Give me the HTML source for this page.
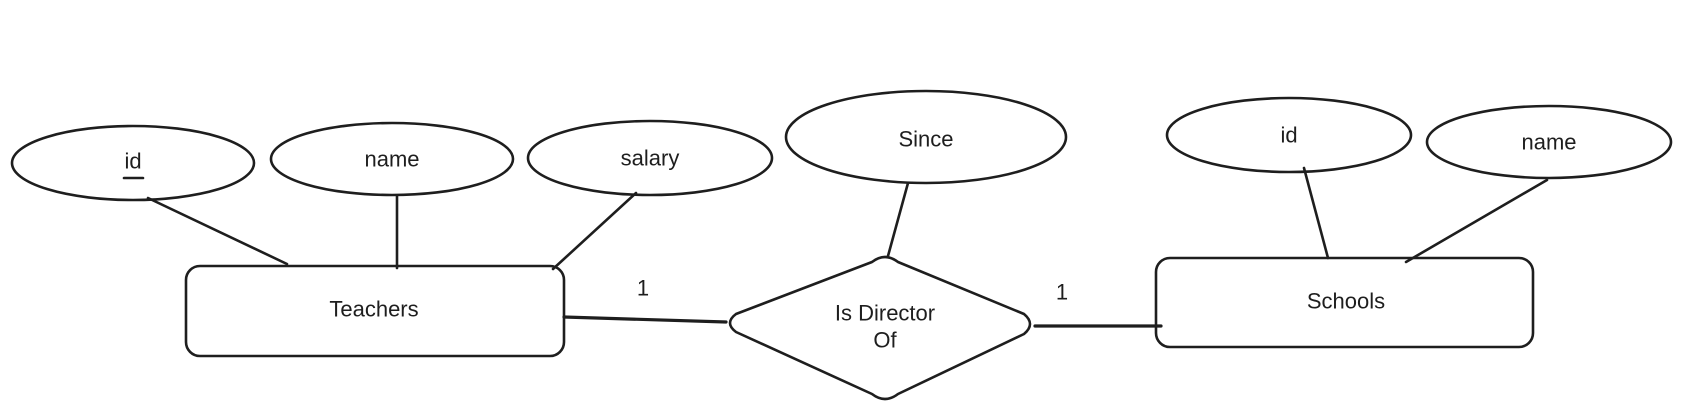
<!DOCTYPE html>
<html><head><style>
html,body{margin:0;padding:0;background:#fff;}
svg{display:block;}
text{font-family:"Liberation Sans",sans-serif;font-size:22px;fill:#1e1e1e;text-anchor:middle;dominant-baseline:central;}
</style></head><body>
<svg width="1700" height="406" viewBox="0 0 1700 406" xmlns="http://www.w3.org/2000/svg">
<rect width="1700" height="406" fill="#fff"/>
<g fill="none" stroke="#1e1e1e" stroke-width="2.6" stroke-linecap="round" stroke-linejoin="round">
<ellipse cx="133" cy="163" rx="121" ry="37"/>
<ellipse cx="392" cy="159" rx="121" ry="36"/>
<ellipse cx="650" cy="158" rx="122" ry="37"/>
<ellipse cx="926" cy="137" rx="140" ry="46"/>
<ellipse cx="1289" cy="135" rx="122" ry="37"/>
<ellipse cx="1549" cy="142" rx="122" ry="36"/>
<rect x="186" y="266" width="378" height="90" rx="14"/>
<rect x="1156" y="258" width="377" height="89" rx="14"/>
<path d="M872 262 Q885 252 898 262 L1024 314 Q1036 324 1024 334 L898 394 Q885 404 872 394 L736 332 Q724 323 736 314 Z"/>
<line x1="148" y1="198" x2="287" y2="264"/>
<line x1="397" y1="196" x2="397" y2="268"/>
<line x1="636" y1="193" x2="553" y2="269"/>
<line x1="908" y1="183" x2="888" y2="256"/>
<line x1="1304" y1="168" x2="1328" y2="258"/>
<line x1="1547" y1="180" x2="1406" y2="262"/>
<line x1="564" y1="317" x2="726" y2="322" stroke-width="3.2"/>
<line x1="1035" y1="326" x2="1161" y2="326" stroke-width="3.2"/>
<line x1="124" y1="178" x2="143" y2="178"/>
</g>
<text x="133" y="161">id</text>
<text x="392" y="159">name</text>
<text x="650" y="158">salary</text>
<text x="926" y="139">Since</text>
<text x="1289" y="135">id</text>
<text x="1549" y="142">name</text>
<text x="374" y="309">Teachers</text>
<text x="1346" y="301">Schools</text>
<text x="885" y="313">Is Director</text>
<text x="885" y="340">Of</text>
<text x="643" y="288">1</text>
<text x="1062" y="292">1</text>
</svg>
</body></html>
